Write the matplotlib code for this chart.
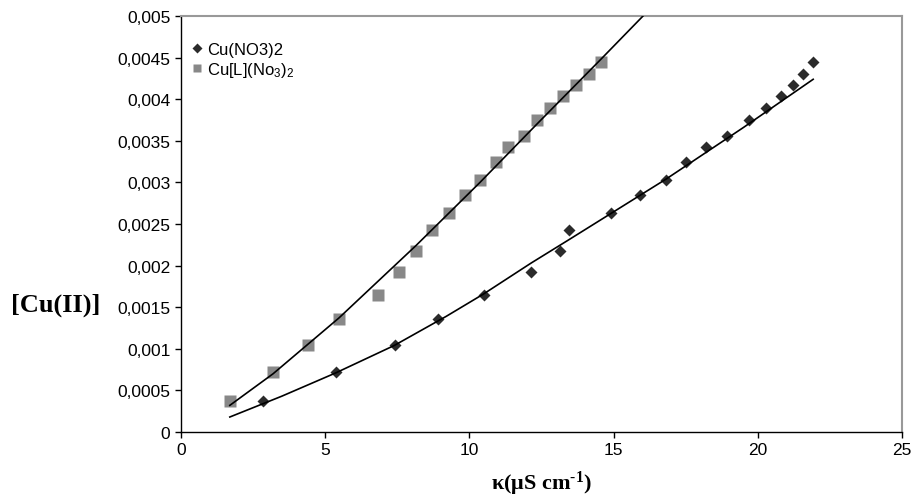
import matplotlib
matplotlib.use("Agg")
import matplotlib.pyplot as plt
from matplotlib.ticker import FixedLocator

conc = [0.00037, 0.00072, 0.00105, 0.00136, 0.00165, 0.00192, 0.00218, 0.00243,
        0.00263, 0.00285, 0.00303, 0.00324, 0.00343, 0.00356, 0.00375, 0.00389,
        0.00404, 0.00417, 0.00430, 0.00445]
kappa_nitrate = [2.84, 5.37, 7.42, 8.92, 10.52, 12.14, 13.14, 13.44, 14.91, 15.92,
                 16.82, 17.51, 18.20, 18.93, 19.69, 20.28, 20.80, 21.22, 21.57, 21.92]
kappa_complex = [1.70, 3.19, 4.40, 5.48, 6.83, 7.56, 8.15, 8.70, 9.29, 9.85,
                 10.37, 10.92, 11.34, 11.90, 12.34, 12.80, 13.25, 13.70, 14.16, 14.56]

# trendlines as drawn on the reference
trend_nitrate_x = [1.7, 3.5, 5.37, 7.4, 9.2, 10.5, 12.14, 13.4, 16.82, 19.5, 21.92]
trend_nitrate_y = [0.00018, 0.00043, 0.00071, 0.00104, 0.00139, 0.00166, 0.00203,
                   0.00230, 0.00304, 0.00366, 0.00424]
trend_complex_x = [1.7, 3.2, 5.48, 8.15, 10.37, 12.34, 14.56, 16.02]
trend_complex_y = [0.00032, 0.00070, 0.00137, 0.00224, 0.00300, 0.00370, 0.00448, 0.005]

yticks = [i * 0.0005 for i in range(11)]
ytick_labels = ['0' if v == 0 else f'{v:.4f}'.rstrip('0').replace('.', ',') for v in yticks]
xticks = [0, 5, 10, 15, 20, 25]

plt.rcParams['font.family'] = ['Liberation Sans', 'DejaVu Sans']
plt.rcParams['mathtext.default'] = 'regular'
plt.rcParams['mathtext.fontset'] = 'custom'
plt.rcParams['mathtext.rm'] = 'Liberation Serif:bold'

fig = plt.figure(figsize=(9.13, 5.02), dpi=100)
ax = fig.add_axes([0.198, 0.1375, 0.79, 0.8285])

ax.plot(trend_complex_x, trend_complex_y, color='black', lw=1.2, zorder=3)
ax.plot(trend_nitrate_x, trend_nitrate_y, color='black', lw=1.2, zorder=3)
ax.plot(kappa_nitrate, conc, 'D', color='#2b2b2b', ms=6, mec='none',
        label='Cu(NO3)2', zorder=2)
ax.plot(kappa_complex, conc, 's', color='#888888', ms=8, mec='none',
        label=r'Cu[L](No$_3$)$_2$', zorder=2)

ax.set_xlim(0, 25)
ax.set_ylim(0, 0.005)
ax.xaxis.set_major_locator(FixedLocator(xticks))
ax.set_xticklabels([str(v) for v in xticks])
ax.yaxis.set_major_locator(FixedLocator(yticks))
ax.set_yticklabels(ytick_labels)
ax.tick_params(direction='out', length=4, width=1, labelsize=12.5, colors='black')

for side in ('top', 'right'):
    ax.spines[side].set_color('#999999')
    ax.spines[side].set_linewidth(1.5)
for side in ('left', 'bottom'):
    ax.spines[side].set_color('black')
    ax.spines[side].set_linewidth(1)

ax.set_xlabel(r'κ(μS cm$^{\text{-1}}$)', family='Liberation Serif', fontweight='bold',
              fontsize=16, labelpad=8)
fig.text(0.061, 0.392, '[Cu(II)]', family='Liberation Serif', fontweight='bold',
         fontsize=19, ha='center', va='center')

ax.legend(loc='upper left', bbox_to_anchor=(0.0, 0.965), frameon=False,
          fontsize=12, handlelength=0.6, handletextpad=0.3, borderaxespad=0.3,
          labelspacing=0.15, markerscale=0.8)

fig.savefig('out.png', dpi=100)
